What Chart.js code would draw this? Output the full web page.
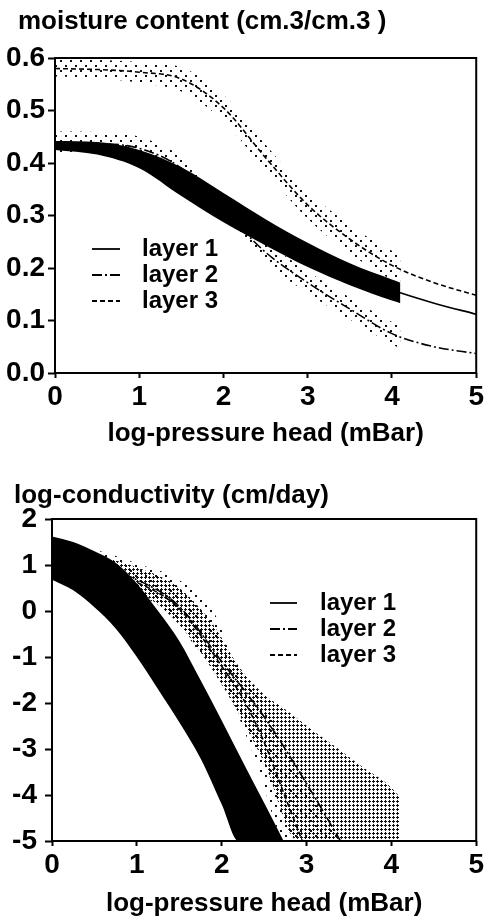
<!DOCTYPE html>
<html>
<head>
<meta charset="utf-8">
<script src="https://cdn.jsdelivr.net/npm/chart.js@4/dist/chart.umd.min.js"></script>
<style>
    html, body { margin: 0; padding: 0; background: #fff; }
    #wrap { position: relative; width: 486px; height: 921px; }
    canvas { position: absolute; left: 0; }
    .ttl {
        position: absolute; white-space: nowrap; color: #000;
        font: bold 26px/31px "Liberation Sans", Arial, Helvetica, sans-serif;
    }
</style>
</head>
<body>
<div id="wrap">
    <canvas id="moistureChart" width="486" height="449" style="top:0px"></canvas>
    <canvas id="conductChart" width="486" height="461" style="top:460px"></canvas>
    <div class="ttl" style="left:18px; top:5px">moisture content (cm.3/cm.3 )</div>
    <div class="ttl" style="left:14px; top:479px">log-conductivity (cm/day)</div>
</div>
<script>
// ---- tick labels / names ----
var layerNames = ['layer 1', 'layer 2', 'layer 3'];
var xTickLabels = ['0', '1', '2', '3', '4', '5'];
var thetaTickLabels = ['0.0', '0.1', '0.2', '0.3', '0.4', '0.5', '0.6'];
var logKTickLabels = ['-5', '-4', '-3', '-2', '-1', '0', '1', '2'];

// ---- moisture content (top panel) ----
var thetaX = [0, 0.5, 1, 1.5, 2, 2.5, 3, 3.5, 4, 4.5, 5];
var theta1 = [0.434, 0.428, 0.408, 0.365, 0.315, 0.268, 0.225, 0.188, 0.158, 0.133, 0.112];
var theta2 = [0.438, 0.437, 0.428, 0.39, 0.31, 0.23, 0.172, 0.122, 0.075, 0.05, 0.037];
var theta3 = [0.58, 0.578, 0.573, 0.56, 0.505, 0.41, 0.32, 0.255, 0.205, 0.172, 0.148];

var thetaBandX = [0, 0.5, 1, 1.5, 2, 2.5, 3, 3.5, 4, 4.1];
var theta1Hi = [0.442, 0.44, 0.425, 0.392, 0.343, 0.293, 0.248, 0.209, 0.178, 0.172];
var theta1Lo = [0.425, 0.416, 0.39, 0.337, 0.287, 0.243, 0.202, 0.167, 0.138, 0.133];
var theta2Hi = [0.46, 0.459, 0.45, 0.412, 0.332, 0.252, 0.194, 0.144, 0.097, 0.089];
var theta2Lo = [0.418, 0.417, 0.408, 0.37, 0.29, 0.21, 0.152, 0.102, 0.055, 0.047];
var theta3Hi = [0.597, 0.596, 0.592, 0.582, 0.53, 0.435, 0.346, 0.282, 0.233, 0.228];
var theta3Lo = [0.565, 0.562, 0.553, 0.536, 0.48, 0.385, 0.294, 0.228, 0.177, 0.17];

// ---- log-conductivity (bottom panel) ----
var k1X = [0, 0.5, 1, 1.5, 2, 2.46];
var k1 = [1.15, 0.69, -0.2, -1.53, -3.29, -5];
var k2X = [0, 0.5, 1, 1.5, 2, 2.5, 3, 3.4];
var k2 = [1.1, 0.95, 0.68, 0.1, -1.1, -2.3, -3.75, -5];
var k3X = [0, 0.5, 1, 1.5, 2, 2.25, 2.5, 2.75, 2.95];
var k3 = [1.0, 0.88, 0.62, 0.05, -1.2, -1.9, -2.85, -4.05, -5];

var k1HiX = [0, 0.25, 0.5, 0.75, 1, 1.25, 1.5, 1.75, 2, 2.25, 2.5, 2.73];
var k1HiY = [1.62, 1.5, 1.3, 1.05, 0.6, 0.0, -0.65, -1.5, -2.38, -3.28, -4.17, -5];
var k1LoX = [0, 0.25, 0.5, 0.75, 1, 1.25, 1.5, 1.75, 2, 2.2, 2.73];
var k1LoY = [0.68, 0.45, 0.08, -0.38, -1.0, -1.7, -2.42, -3.2, -4.2, -5, -5];

var k2HiX = [0, 0.5, 1, 1.5, 1.9, 2.2, 2.48, 2.76, 3.07, 3.35, 3.66, 3.94, 4.1];
var k2HiY = [1.3, 1.2, 0.95, 0.5, -0.3, -1.2, -1.78, -2.15, -2.59, -2.96, -3.39, -3.74, -4.04];
var k2LoX = [0, 0.5, 1, 1.5, 2, 2.5, 2.9, 4.1];
var k2LoY = [0.9, 0.8, 0.45, -0.3, -1.6, -3.3, -5, -5];

var k3HiX = [0, 0.5, 1, 1.5, 1.9, 2.15, 2.4, 2.75, 3.1, 3.4];
var k3HiY = [1.45, 1.33, 1.03, 0.67, 0.0, -1.1, -1.75, -2.9, -4.05, -5];
var k3LoX = [0, 0.6, 1.15, 1.54, 1.82, 2.06, 2.41, 2.76, 3.4];
var k3LoY = [0.6, 0.45, 0.24, -0.41, -1.13, -1.72, -3.3, -5, -5];

var FONT = '"Liberation Sans", Arial, Helvetica, sans-serif';
Chart.defaults.font.family = FONT;
Chart.defaults.color = '#000';

function pts(xs, ys) {
    return xs.map(function (x, i) { return {x: x, y: ys[i]}; });
}

// stipple fills
function dotPattern(cell, w, h) {
    var c = document.createElement('canvas');
    c.width = cell * 2; c.height = cell * 2;
    var g = c.getContext('2d');
    g.fillStyle = '#111';
    g.fillRect(0, 0, w, h);
    g.fillRect(cell, cell, w, h);
    return g.createPattern(c, 'repeat');
}
function plusPattern() {
    var c = document.createElement('canvas');
    c.width = 4; c.height = 4;
    var g = c.getContext('2d');
    g.fillStyle = '#111';
    g.fillRect(0, 1, 3, 1);
    g.fillRect(1, 0, 1, 3);
    return g.createPattern(c, 'repeat');
}

function lineSet(label, data, dash) {
    return {label: label, data: data, borderColor: '#000', borderWidth: 1.6, borderDash: dash,
        pointRadius: 0, fill: false, cubicInterpolationMode: 'monotone', order: 0};
}
function bandSet(hi, lo, bg, order) {
    return [
        {label: '', data: hi, borderWidth: 0, pointRadius: 0, backgroundColor: bg,
            fill: '+1', cubicInterpolationMode: 'monotone', order: order},
        {label: '', data: lo, borderWidth: 0, pointRadius: 0, fill: false,
            cubicInterpolationMode: 'monotone', order: order}
    ];
}

// box round the plot area
var frame = {
    id: 'frame',
    afterDraw: function (chart) {
        var a = chart.chartArea, ctx = chart.ctx;
        ctx.save();
        ctx.lineWidth = 2;
        ctx.strokeStyle = '#000';
        ctx.strokeRect(a.left, a.top, a.right - a.left, a.bottom - a.top);
        ctx.restore();
    }
};

// legend drawn inside the plot
var insetLegend = {
    id: 'insetLegend',
    afterDatasetsDraw: function (chart, args, opts) {
        var a = chart.chartArea, ctx = chart.ctx;
        ctx.save();
        ctx.font = 'bold 24px ' + FONT;
        ctx.textBaseline = 'middle';
        ctx.fillStyle = '#000';
        ctx.strokeStyle = '#000';
        for (var i = 0; i < 3; i++) {
            var ds = chart.data.datasets[i];
            var y = a.top + opts.top + i * opts.gap;
            ctx.beginPath();
            ctx.lineWidth = 1.8;
            ctx.setLineDash(ds.borderDash || []);
            ctx.moveTo(a.left + opts.left, y);
            ctx.lineTo(a.left + opts.left + opts.len, y);
            ctx.stroke();
            ctx.setLineDash([]);
            ctx.fillText(ds.label, a.left + opts.textLeft, y);
        }
        ctx.restore();
    }
};

function axisX(height, titlePad) {
    return {
        type: 'linear', min: 0, max: 5,
        afterFit: function (s) { s.height = height; },
        ticks: {stepSize: 1, padding: 2, font: {size: 28, weight: 'bold'},
            callback: function (v) { return xTickLabels[v]; }},
        grid: {drawOnChartArea: false, tickLength: 5, tickWidth: 2, color: '#000'},
        border: {display: false},
        title: {display: true, text: 'log-pressure head (mBar)', font: {size: 26, weight: 'bold'},
            padding: {top: 0, bottom: titlePad}}
    };
}

function setUpMoisture() {
    var pat = dotPattern(5, 2, 2);
    var datasets = [
        lineSet(layerNames[0], pts(thetaX, theta1), []),
        lineSet(layerNames[1], pts(thetaX, theta2), [10, 3, 2, 3]),
        lineSet(layerNames[2], pts(thetaX, theta3), [5, 3])
    ];
    datasets = datasets.concat(
        bandSet(pts(thetaBandX, theta1Hi), pts(thetaBandX, theta1Lo), '#000', 1),
        bandSet(pts(thetaBandX, theta2Hi), pts(thetaBandX, theta2Lo), pat, 2),
        bandSet(pts(thetaBandX, theta3Hi), pts(thetaBandX, theta3Lo), pat, 3)
    );
    var ctx = document.getElementById('moistureChart').getContext('2d');
    new Chart(ctx, {
        type: 'line',
        data: {datasets: datasets},
        plugins: [frame, insetLegend],
        options: {
            responsive: false, animation: false, devicePixelRatio: 1,
            layout: {padding: {left: 0, right: 7, top: 58, bottom: 0}},
            plugins: {
                legend: {display: false},
                tooltip: {enabled: false},
                insetLegend: {left: 37, len: 28, textLeft: 87, top: 191, gap: 26}
            },
            scales: {
                x: axisX(76, 0),
                y: {
                    min: 0, max: 0.6,
                    afterFit: function (s) { s.width = 55; },
                    ticks: {stepSize: 0.1, padding: 3, font: {size: 28, weight: 'bold'},
                        callback: function (v) { return thetaTickLabels[Math.round(v * 10)]; }},
                    grid: {drawOnChartArea: false, tickLength: 7, tickWidth: 2, color: '#000'},
                    border: {display: false}
                }
            }
        }
    });
}

function setUpConductivity() {
    var coarse = dotPattern(5, 2, 2);
    var fine = plusPattern();
    var datasets = [
        lineSet(layerNames[0], pts(k1X, k1), []),
        lineSet(layerNames[1], pts(k2X, k2), [10, 3, 2, 3]),
        lineSet(layerNames[2], pts(k3X, k3), [5, 3])
    ];
    datasets = datasets.concat(
        bandSet(pts(k1HiX, k1HiY), pts(k1LoX, k1LoY), '#000', 1),
        bandSet(pts(k2HiX, k2HiY), pts(k2LoX, k2LoY), fine, 2),
        bandSet(pts(k3HiX, k3HiY), pts(k3LoX, k3LoY), coarse, 3)
    );
    var ctx = document.getElementById('conductChart').getContext('2d');
    new Chart(ctx, {
        type: 'line',
        data: {datasets: datasets},
        plugins: [frame, insetLegend],
        options: {
            responsive: false, animation: false, devicePixelRatio: 1,
            layout: {padding: {left: 0, right: 9, top: 59, bottom: 0}},
            plugins: {
                legend: {display: false},
                tooltip: {enabled: false},
                insetLegend: {left: 218, len: 27, textLeft: 268, top: 84, gap: 26}
            },
            scales: {
                x: axisX(80, 2),
                y: {
                    min: -5, max: 2,
                    afterFit: function (s) { s.width = 52; },
                    ticks: {stepSize: 1, padding: 8, font: {size: 28, weight: 'bold'},
                        callback: function (v) { return logKTickLabels[v + 5]; }},
                    grid: {drawOnChartArea: false, tickLength: 7, tickWidth: 2, color: '#000'},
                    border: {display: false}
                }
            }
        }
    });
}

setUpMoisture();
setUpConductivity();
</script>
</body>
</html>
